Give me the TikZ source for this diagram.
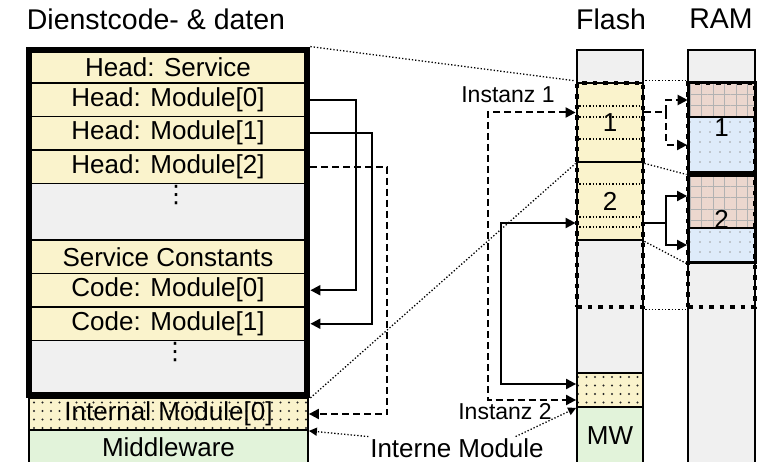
\documentclass[tikz,border=0pt]{standalone}
\usepackage{fontspec}
\setmainfont{Liberation Sans}
\newfontfamily\symbfont{DejaVu Sans}
\usetikzlibrary{arrows.meta,positioning,calc,fit,patterns.meta}

\definecolor{memyellow}{RGB}{250,243,204}
\definecolor{memgray}{RGB}{240,240,240}
\definecolor{memgreen}{RGB}{226,243,218}
\definecolor{mempink}{RGB}{236,215,206}
\definecolor{memblue}{RGB}{222,235,250}

\begin{document}
\begin{tikzpicture}[x=1pt, y=-1pt, >={Triangle[length=10pt,width=10pt]}, line width=1.8pt]
        \tikzset{
            title/.style={font=\fontsize{28.5}{32}\selectfont, inner sep=0pt},
            cell/.style={draw, rectangle, minimum width=274pt, inner sep=0pt, font=\fontsize{26}{30}\selectfont},
            column/.style={draw, fill=memgray, rectangle, minimum height=414pt},
            intmod/.style={cell, preaction={fill=memyellow}, pattern={Dots[distance=8.5pt, radius=1.2pt]}, pattern color=black!85},
            instcell/.style={cell, fill=memyellow, minimum width=66pt, line width=2.8pt},
            ramdata/.style={cell, minimum width=67pt, preaction={fill=mempink}, pattern={Hatch[distance=11.5pt, angle=0, line width=0.6pt]}, pattern color=gray!60},
            ramvar/.style={cell, minimum width=67pt, preaction={fill=memblue}, pattern={Dots[distance=10pt, radius=0.9pt]}, pattern color=gray!75},
            raminst/.style={cell, minimum width=67pt, line width=3pt},
            instbox/.style={draw, rectangle, line width=4.5pt, dash pattern=on 4.5pt off 6pt},
            vdot/.style={inner sep=0pt, font=\symbfont\fontsize{24}{26}\selectfont},
            io/.style={font=\fontsize{23}{26}\selectfont, inner sep=2pt},
            sline/.style={draw, line width=2pt},
            dline/.style={draw, line width=2pt, dash pattern=on 7pt off 4pt},
            mapline/.style={draw, line width=1.3pt, dotted}
        }
        \useasboundingbox (0,0) rectangle (759,462);

        % Titles
        \node [title, anchor=west] (svctitle) at (26,19) {Dienstcode- \& daten};
        \node [title] (flashtitle) at (611,19) {Flash};
        \node [title] (ramtitle) at (721,19) {RAM};

        % Service code and data
        \node [cell, fill=memyellow, minimum height=31pt] (hsvc) at (168,67.5) {Head: Service};
        \node [cell, fill=memyellow, minimum height=33.5pt] (hm0) at (168,99.75) {Head: Module[0]};
        \node [cell, fill=memyellow, minimum height=33.5pt] (hm1) at (168,133.25) {Head: Module[1]};
        \node [cell, fill=memyellow, minimum height=33.5pt] (hm2) at (168,166.75) {Head: Module[2]};
        \node [cell, fill=memgray, minimum height=56.5pt] (gap1) at (168,211.75) {};
        \node [cell, fill=memyellow, minimum height=33.5pt] (sconst) at (168,256.75) {Service Constants};
        \node [cell, fill=memyellow, minimum height=33.5pt] (cm0) at (168,290.25) {Code: Module[0]};
        \node [cell, fill=memyellow, minimum height=33.5pt] (cm1) at (168,323.75) {Code: Module[1]};
        \node [cell, fill=memgray, minimum height=52pt] (gap2) at (168,366.5) {};
        \node [vdot] (vd1) at (176,195) {⋮};
        \node [vdot] (vd2) at (175,352) {⋮};
        \node [draw, line width=5pt, fit=(hsvc) (gap2), inner sep=2pt] (svcbox) {};

        % Internal module and middleware
        \node [intmod, minimum width=279pt, minimum height=32pt] (imod) at (168.5,414) {Internal Module[0]};
        \node [cell, fill=memgreen, minimum width=279pt, minimum height=34pt] (mw) at (168.5,447) {Middleware};

        % Flash
        \node [column, minimum width=66pt] (flash) at (610,257) {};
        \node [instcell, minimum height=79pt] (f1) at (610,122.5) {1};
        \node [instcell, minimum height=78pt] (f2) at (610,201) {2};
        \foreach \y in {106,117,139,184,217,227}
            \draw [mapline] (flash.west |- 0,\y) -- (flash.east |- 0,\y);
        \node [intmod, minimum width=66pt, minimum height=34pt] (fint) at (610,390) {};
        \node [cell, fill=memgreen, minimum width=66pt, minimum height=57pt] (fmw) at (610,435.5) {MW};

        % RAM
        \node [column, minimum width=67pt] (ram) at (721.5,257) {};
        \node [ramdata, minimum height=34pt] (r1a) at (721.5,100) {};
        \node [ramvar, minimum height=56pt] (r1b) at (721.5,145) {};
        \node [raminst, minimum height=90pt] (r1) at (721.5,128) {1};
        \node [ramdata, minimum height=52pt] (r2a) at (721.5,202) {};
        \node [ramvar, minimum height=34pt] (r2b) at (721.5,245) {};
        \node [raminst, minimum height=86pt] (r2) at (721.5,219) {2};

        % Instance frames
        \node [instbox, minimum width=66pt, minimum height=224pt] (fbox) at (610,195) {};
        \node [instbox, minimum width=67pt, minimum height=224pt] (rbox) at (721.5,195) {};

        % Mapping lines
        \draw [mapline] (svcbox.north east) -- (fbox.north west);
        \draw [mapline] (fbox.north east) -- (rbox.north west);
        \draw [mapline] (svcbox.south east) -- (f1.south west);
        \draw [mapline] (f1.south east) -- (r1.south west);
        \draw [mapline] (f2.south east) -- (r2.south west);
        \draw [mapline] (fbox.south east) -- (rbox.south west);

        % Head to code
        \draw [sline, ->] (hm0.east -| svcbox.east) -- ++(46,0) |- (cm0.east -| svcbox.east);
        \draw [sline, ->] (hm1.east -| svcbox.east) -- ++(62,0) |- (cm1.east -| svcbox.east);
        \draw [dline, ->] (hm2.east -| svcbox.east) -- ++(77,0) |- (imod.east);

        % Instances in flash
        \node [io] (inst1) at (508,95) {Instanz 1};
        \node [io] (inst2) at (505,412) {Instanz 2};
        \draw [dline, <->] ([yshift=10pt]f1.west) -- ++(-88,0) |- ([yshift=-10pt]fint.west);
        \draw [sline, <->] ([yshift=-22pt]f2.west) -- ++(-75,0) |- ([yshift=6pt]fint.west);

        % Flash to RAM
        \draw [dline] ([yshift=10pt]f1.east) -- ++(22,0) coordinate (fr1);
        \draw [dline, ->] (fr1) |- (r1a.west);
        \draw [dline, ->] (fr1) |- (r1b.west);
        \draw [sline] ([yshift=-22pt]f2.east) -- ++(22,0) coordinate (fr2);
        \draw [sline, ->] (fr2) |- ([yshift=6pt]r2a.west);
        \draw [sline, ->] (fr2) |- (r2b.west);

        % Internal modules
        \node [io, inner sep=1pt, font=\fontsize{26}{30}\selectfont] (imlbl) at (457,448) {Interne Module};
        \draw [mapline, -{Triangle[length=8pt,width=8pt]}] (imlbl.north west) -- (imod.south east);
        \draw [mapline, -{Triangle[length=8pt,width=8pt]}] ([xshift=-30pt]imlbl.north east) -- (fint.south west);

    \end{tikzpicture}
\end{document}
